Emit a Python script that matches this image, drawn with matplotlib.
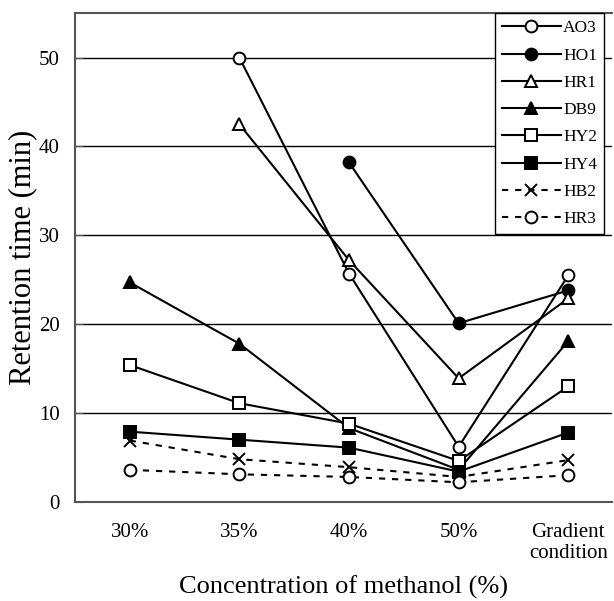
import matplotlib
matplotlib.use('Agg')
import matplotlib.pyplot as plt
import numpy as np

plt.rcParams['font.family'] = ['Liberation Serif', 'DejaVu Serif']

# Categories on the x axis
categories = ['30%', '35%', '40%', '50%', 'Gradient\ncondition']

# Retention times (min), None where no value was measured
ao3 = [None, 50.0, 25.7, 6.2, 25.5]
ho1 = [None, None, 38.2, 20.1, 23.8]
hr1 = [None, 42.5, 27.2, 13.9, 22.9]
db9 = [24.7, 17.8, 8.3, 3.6, 18.1]
hy2 = [15.4, 11.1, 8.8, 4.6, 13.0]
hy4 = [7.9, 7.0, 6.1, 3.4, 7.8]
hb2 = [6.9, 4.8, 3.9, 2.8, 4.7]
hr3 = [3.6, 3.1, 2.8, 2.2, 3.0]

series = [
    ('AO3', ao3, 'o', 'white', '-'),
    ('HO1', ho1, 'o', 'black', '-'),
    ('HR1', hr1, '^', 'white', '-'),
    ('DB9', db9, '^', 'black', '-'),
    ('HY2', hy2, 's', 'white', '-'),
    ('HY4', hy4, 's', 'black', '-'),
    ('HB2', hb2, 'x', 'black', (0, (3, 3.3))),
    ('HR3', hr3, 'o', 'white', (0, (3, 3.3))),
]

fig = plt.figure(figsize=(6.14, 6.01), dpi=100)
ax = fig.add_axes([0.122, 0.165, 0.875, 0.813])

x = np.arange(len(categories))
for name, vals, marker, face, ls in series:
    y = np.array([np.nan if v is None else v for v in vals], dtype=float)
    ax.plot(x, y, linestyle=ls, color='black', linewidth=1.5, marker=marker,
            markersize=8.5, markerfacecolor=face,
            markeredgecolor='black', markeredgewidth=1.4, label=name, zorder=3)

ax.set_xlim(-0.5, 4.4)
ax.set_ylim(0, 55)
ax.set_yticks(np.arange(0, 51, 10))
ax.set_xticks(x)
ax.set_xticklabels(categories, fontsize=15, linespacing=1.15)
ax.tick_params(axis='y', labelsize=15, direction='in', length=6, color='#555555', pad=11)
ax.tick_params(axis='x', length=0, pad=15)
ax.yaxis.grid(True, color='black', linewidth=1.0)
ax.set_axisbelow(True)

for side in ['left', 'bottom', 'top']:
    ax.spines[side].set_color('#555555')
    ax.spines[side].set_linewidth(1.5)
ax.spines['right'].set_visible(False)

ax.set_xlabel('Concentration of methanol (%)', fontsize=19, labelpad=9)
ax.set_ylabel('Retention time (min)', fontsize=22, labelpad=1)

leg = ax.legend(loc='upper right', bbox_to_anchor=(0.985, 1.0), borderaxespad=0,
                fontsize=12.5, handlelength=3.4, handletextpad=0.15, labelspacing=0.64,
                fancybox=False, framealpha=1, edgecolor='black', borderpad=0.4)
leg.get_frame().set_linewidth(1.0)

plt.savefig('out.png', dpi=100)
